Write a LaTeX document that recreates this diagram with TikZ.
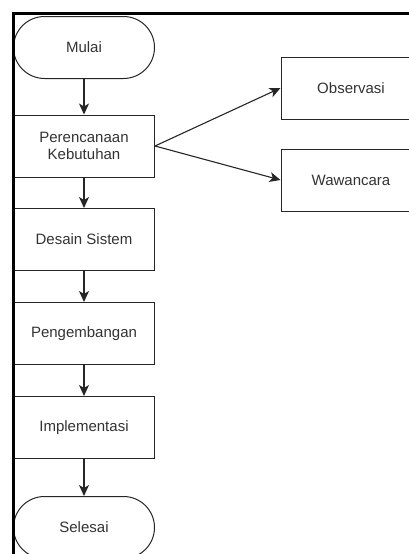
\documentclass[tikz,border=0pt]{standalone}
\usepackage{fontspec}
\setmainfont{Liberation Sans}
\usetikzlibrary{arrows.meta}
\definecolor{txt}{HTML}{333333}
\begin{document}
\begin{tikzpicture}[x=1pt,y=-1pt,
  base/.style={draw=black!85, line width=1pt, minimum width=141pt, minimum height=62pt, inner sep=0pt, text=txt, font=\fontsize{15}{17}\selectfont, align=center},
  proc/.style={base},
  term/.style={base, rounded corners=31pt},
  conn/.style={draw=black!85, line width=1.1pt, -{Stealth[length=11pt,width=10pt,inset=3pt]}}]
\useasboundingbox (0,0) rectangle (409,554);
\clip (0,0) rectangle (409,554);
\fill[white] (0,0) rectangle (409,554);
\node[term] (mulai) at (84,47.5) {Mulai};
\node[proc] (plan) at (84,146) {Perencanaan\\Kebutuhan};
\node[proc] (desain) at (84,239.5) {Desain Sistem};
\node[proc] (dev) at (84,333.5) {Pengembangan};
\node[proc] (impl) at (84,427.5) {Implementasi};
\node[term] (end) at (84,527.5) {Selesai};
\node[proc, minimum width=140pt] (obs) at (351,88) {Observasi};
\node[proc, minimum width=140pt] (waw) at (351,180) {Wawancara};
\draw[conn] (mulai) -- (plan);
\draw[conn] (plan) -- (desain);
\draw[conn] (desain) -- (dev);
\draw[conn] (dev) -- (impl);
\draw[conn] (impl) -- (end);
\draw[conn] (plan.east) -- (obs.west);
\draw[conn] (plan.east) -- (waw.west);
\draw[black, line width=3pt] (13,560) -- (13,13.5) -- (412,13.5);
\end{tikzpicture}
\end{document}
